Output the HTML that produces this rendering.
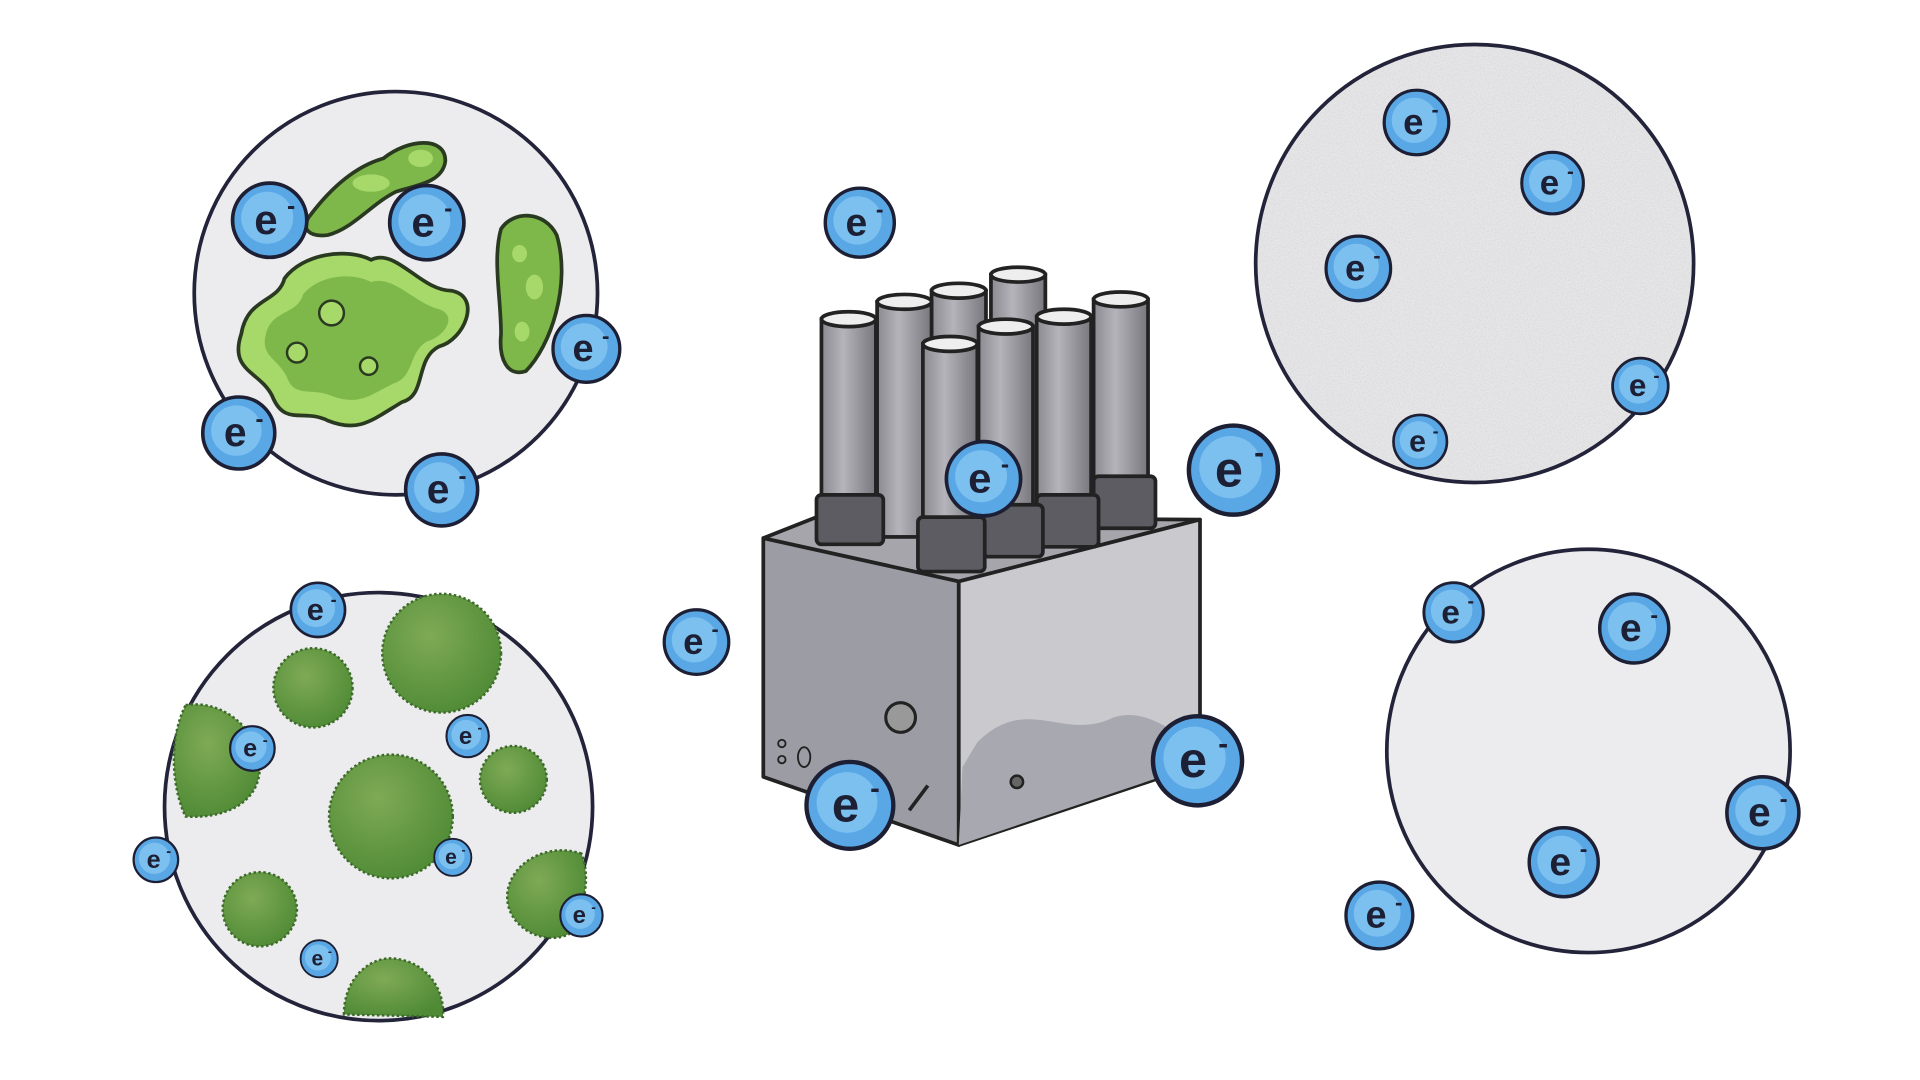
<!DOCTYPE html>
<html><head><meta charset="utf-8"><style>
html,body{margin:0;padding:0;background:#fff;width:1920px;height:1080px;overflow:hidden}
svg{display:block}
</style></head><body>
<svg width="1920" height="1080" viewBox="0 0 1552 873" preserveAspectRatio="none" xmlns="http://www.w3.org/2000/svg">
<defs>
<filter id="sp"><feTurbulence type="fractalNoise" baseFrequency="0.9" numOctaves="2" seed="3"/><feColorMatrix values="0 0 0 0 0.55  0 0 0 0 0.55  0 0 0 0 0.55  0 0 0 1.4 -0.55"/><feComposite in2="SourceGraphic" operator="in"/></filter>
<radialGradient id="bush" cx="0.4" cy="0.35" r="0.7"><stop offset="0" stop-color="#7faa55"/><stop offset="1" stop-color="#4f8a35"/></radialGradient>
<linearGradient id="tube" x1="0" x2="1"><stop offset="0" stop-color="#8a8a90"/><stop offset="0.4" stop-color="#b4b4ba"/><stop offset="1" stop-color="#77777d"/></linearGradient>
</defs>

<!-- circles -->
<circle cx="320" cy="237" r="163" fill="#ececee" stroke="#23233a" stroke-width="3"/>
<circle cx="306" cy="652" r="173" fill="#ececee" stroke="#23233a" stroke-width="3"/>
<circle cx="1192" cy="213" r="177" fill="#e6e6e8" stroke="#23233a" stroke-width="3"/>
<circle cx="1192" cy="213" r="175" fill="#fff" filter="url(#sp)" opacity="0.6"/>
<circle cx="1284" cy="607" r="163" fill="#ececee" stroke="#23233a" stroke-width="3"/>

<!-- top-left organisms -->
<path d="M195 270 C200 240 225 245 230 225 C245 205 280 200 300 210 C320 200 340 235 365 235 C390 240 375 275 355 280 C335 290 345 320 325 325 C300 340 290 350 265 340 C245 330 230 345 220 320 C210 300 185 300 195 270Z" fill="#a7d86a" stroke="#2a3a20" stroke-width="3"/>
<path d="M215 270 C220 250 240 255 245 238 C258 222 285 220 300 228 C318 222 335 245 355 250 C370 255 360 272 345 276 C330 285 335 305 318 310 C298 320 290 328 268 320 C252 313 238 322 232 305 C225 290 210 288 215 270Z" fill="#7fb84a"/>
<circle cx="268" cy="253" r="10" fill="#a7d86a" stroke="#2a3a20" stroke-width="2"/>
<circle cx="240" cy="285" r="8" fill="#a7d86a" stroke="#2a3a20" stroke-width="2"/>
<circle cx="298" cy="296" r="7" fill="#a7d86a" stroke="#2a3a20" stroke-width="2"/>
<path d="M250 175 C265 155 285 135 310 128 C330 112 360 110 360 130 C358 148 335 150 320 155 C300 165 285 185 265 190 C250 192 243 185 250 175Z" fill="#7fb84a" stroke="#2a3a20" stroke-width="3"/>
<ellipse cx="300" cy="148" rx="15" ry="7" fill="#a7d86a"/>
<ellipse cx="340" cy="128" rx="10" ry="7" fill="#a7d86a"/>
<path d="M405 185 C415 170 440 170 450 190 C462 230 445 280 425 300 C410 305 403 290 405 270 C405 240 398 210 405 185Z" fill="#7fb84a" stroke="#2a3a20" stroke-width="3"/>
<ellipse cx="432" cy="232" rx="7" ry="10" fill="#a7d86a"/><ellipse cx="420" cy="205" rx="6" ry="7" fill="#a7d86a"/><ellipse cx="422" cy="268" rx="6" ry="8" fill="#a7d86a"/>

<!-- bottom-left bushes -->
<g fill="url(#bush)" stroke="#3c6a28" stroke-width="2" stroke-dasharray="2 2">
<circle cx="357" cy="528" r="48"/>
<circle cx="253" cy="556" r="32"/>
<path d="M150 570 C180 565 210 590 210 620 C210 650 180 662 150 660 C140 640 135 600 150 570Z"/>
<circle cx="316" cy="660" r="50"/>
<circle cx="415" cy="630" r="27"/>
<circle cx="210" cy="735" r="30"/>
<path d="M470 690 C440 680 410 700 410 725 C410 750 440 765 460 755 C472 735 478 710 470 690Z"/>
<path d="M278 820 C278 790 300 772 320 775 C345 778 360 800 358 822Z"/>
</g>

<!-- machine -->
<polygon points="617,435 660,418 970,420 775,470" fill="#a5a5ab" stroke="#222" stroke-width="3" stroke-linejoin="round"/>
<polygon points="617,435 775,470 775,683 617,628" fill="#9c9ca4" stroke="#222" stroke-width="3" stroke-linejoin="round"/>
<polygon points="775,470 970,420 970,618 775,683" fill="#cacace" stroke="#222" stroke-width="3" stroke-linejoin="round"/>
<path d="M790 600 C830 560 860 600 900 580 C930 570 955 600 968 600 L968 618 L775 683 L778 620Z" fill="#a8a8b0"/>
<circle cx="728" cy="580" r="12" fill="#999" stroke="#222" stroke-width="2.5"/>
<circle cx="822" cy="632" r="5" fill="#666" stroke="#222" stroke-width="2"/>
<circle cx="632" cy="601" r="3" fill="none" stroke="#222" stroke-width="1.5"/><circle cx="632" cy="614" r="3" fill="none" stroke="#222" stroke-width="1.5"/>
<ellipse cx="650" cy="612" rx="5" ry="8" fill="none" stroke="#222" stroke-width="1.5"/>
<line x1="735" y1="655" x2="750" y2="635" stroke="#222" stroke-width="3"/>
<g stroke="#222" stroke-width="3">
<!-- back row -->
<rect x="753" y="235" width="44" height="190" fill="url(#tube)"/><ellipse cx="775" cy="235" rx="22" ry="6" fill="#eee"/>
<rect x="801" y="222" width="44" height="200" fill="url(#tube)"/><ellipse cx="823" cy="222" rx="22" ry="6" fill="#eee"/>
<rect x="709" y="244" width="44" height="190" fill="url(#tube)"/><ellipse cx="731" cy="244" rx="22" ry="6" fill="#eee"/>
<rect x="884" y="242" width="44" height="170" fill="url(#tube)"/><ellipse cx="906" cy="242" rx="22" ry="6" fill="#eee"/>
<rect x="664" y="258" width="44" height="150" fill="url(#tube)"/><ellipse cx="686" cy="258" rx="22" ry="6" fill="#eee"/>
<rect x="838" y="256" width="44" height="160" fill="url(#tube)"/><ellipse cx="860" cy="256" rx="22" ry="6" fill="#eee"/>
<rect x="791" y="264" width="44" height="160" fill="url(#tube)"/><ellipse cx="813" cy="264" rx="22" ry="6" fill="#eee"/>
<rect x="746" y="278" width="44" height="160" fill="url(#tube)"/><ellipse cx="768" cy="278" rx="22" ry="6" fill="#eee"/>
<!-- collars -->
<rect x="660" y="400" width="54" height="40" rx="4" fill="#5c5c62"/>
<rect x="884" y="385" width="50" height="42" rx="4" fill="#5c5c62"/>
<rect x="838" y="400" width="50" height="42" rx="4" fill="#5c5c62"/>
<rect x="795" y="408" width="48" height="42" rx="4" fill="#5c5c62"/>
<rect x="742" y="418" width="54" height="44" rx="4" fill="#5c5c62"/>
</g>

<!-- electrons -->
<g id="el" font-family="Liberation Sans, sans-serif" font-weight="bold">
<g transform="translate(218,178) scale(1.0)"><circle r="30" fill="#5aa7e6" stroke="#1d2035" stroke-width="3"/><circle r="21" cx="-2" cy="-2" fill="#7cc0f0"/><text x="-3" y="11" font-size="34" text-anchor="middle" fill="#1d2035">e</text><text x="14" y="-5" font-size="20" fill="#1d2035">-</text></g>
</g>
<g font-family="Liberation Sans, sans-serif" font-weight="bold" fill="#1d2035">
<!-- template repeated -->
<g transform="translate(345,180)"><circle r="30" fill="#5aa7e6" stroke="#1d2035" stroke-width="3"/><circle r="21" cx="-2" cy="-2" fill="#7cc0f0"/><text x="-3" y="11" font-size="34" text-anchor="middle">e</text><text x="14" y="-5" font-size="20">-</text></g>
<g transform="translate(474,282) scale(0.9)"><circle r="30" fill="#5aa7e6" stroke="#1d2035" stroke-width="3"/><circle r="21" cx="-2" cy="-2" fill="#7cc0f0"/><text x="-3" y="11" font-size="34" text-anchor="middle">e</text><text x="14" y="-5" font-size="20">-</text></g>
<g transform="translate(193,350) scale(0.97)"><circle r="30" fill="#5aa7e6" stroke="#1d2035" stroke-width="3"/><circle r="21" cx="-2" cy="-2" fill="#7cc0f0"/><text x="-3" y="11" font-size="34" text-anchor="middle">e</text><text x="14" y="-5" font-size="20">-</text></g>
<g transform="translate(357,396) scale(0.97)"><circle r="30" fill="#5aa7e6" stroke="#1d2035" stroke-width="3"/><circle r="21" cx="-2" cy="-2" fill="#7cc0f0"/><text x="-3" y="11" font-size="34" text-anchor="middle">e</text><text x="14" y="-5" font-size="20">-</text></g>
<g transform="translate(695,180) scale(0.93)"><circle r="30" fill="#5aa7e6" stroke="#1d2035" stroke-width="3"/><circle r="21" cx="-2" cy="-2" fill="#7cc0f0"/><text x="-3" y="11" font-size="34" text-anchor="middle">e</text><text x="14" y="-5" font-size="20">-</text></g>
<g transform="translate(1145,99) scale(0.87)"><circle r="30" fill="#5aa7e6" stroke="#1d2035" stroke-width="3"/><circle r="21" cx="-2" cy="-2" fill="#7cc0f0"/><text x="-3" y="11" font-size="34" text-anchor="middle">e</text><text x="14" y="-5" font-size="20">-</text></g>
<g transform="translate(1255,148) scale(0.83)"><circle r="30" fill="#5aa7e6" stroke="#1d2035" stroke-width="3"/><circle r="21" cx="-2" cy="-2" fill="#7cc0f0"/><text x="-3" y="11" font-size="34" text-anchor="middle">e</text><text x="14" y="-5" font-size="20">-</text></g>
<g transform="translate(1098,217) scale(0.87)"><circle r="30" fill="#5aa7e6" stroke="#1d2035" stroke-width="3"/><circle r="21" cx="-2" cy="-2" fill="#7cc0f0"/><text x="-3" y="11" font-size="34" text-anchor="middle">e</text><text x="14" y="-5" font-size="20">-</text></g>
<g transform="translate(1326,312) scale(0.75)"><circle r="30" fill="#5aa7e6" stroke="#1d2035" stroke-width="3"/><circle r="21" cx="-2" cy="-2" fill="#7cc0f0"/><text x="-3" y="11" font-size="34" text-anchor="middle">e</text><text x="14" y="-5" font-size="20">-</text></g>
<g transform="translate(1148,357) scale(0.72)"><circle r="30" fill="#5aa7e6" stroke="#1d2035" stroke-width="3"/><circle r="21" cx="-2" cy="-2" fill="#7cc0f0"/><text x="-3" y="11" font-size="34" text-anchor="middle">e</text><text x="14" y="-5" font-size="20">-</text></g>
<g transform="translate(997,380) scale(1.2)"><circle r="30" fill="#5aa7e6" stroke="#1d2035" stroke-width="3"/><circle r="21" cx="-2" cy="-2" fill="#7cc0f0"/><text x="-3" y="11" font-size="34" text-anchor="middle">e</text><text x="14" y="-5" font-size="20">-</text></g>
<g transform="translate(795,387)"><circle r="30" fill="#5aa7e6" stroke="#1d2035" stroke-width="3"/><circle r="21" cx="-2" cy="-2" fill="#7cc0f0"/><text x="-3" y="11" font-size="34" text-anchor="middle">e</text><text x="14" y="-5" font-size="20">-</text></g>
<g transform="translate(563,519) scale(0.87)"><circle r="30" fill="#5aa7e6" stroke="#1d2035" stroke-width="3"/><circle r="21" cx="-2" cy="-2" fill="#7cc0f0"/><text x="-3" y="11" font-size="34" text-anchor="middle">e</text><text x="14" y="-5" font-size="20">-</text></g>
<g transform="translate(968,615) scale(1.2)"><circle r="30" fill="#5aa7e6" stroke="#1d2035" stroke-width="3"/><circle r="21" cx="-2" cy="-2" fill="#7cc0f0"/><text x="-3" y="11" font-size="34" text-anchor="middle">e</text><text x="14" y="-5" font-size="20">-</text></g>
<g transform="translate(687,651) scale(1.17)"><circle r="30" fill="#5aa7e6" stroke="#1d2035" stroke-width="3"/><circle r="21" cx="-2" cy="-2" fill="#7cc0f0"/><text x="-3" y="11" font-size="34" text-anchor="middle">e</text><text x="14" y="-5" font-size="20">-</text></g>
<g transform="translate(257,493) scale(0.73)"><circle r="30" fill="#5aa7e6" stroke="#1d2035" stroke-width="3"/><circle r="21" cx="-2" cy="-2" fill="#7cc0f0"/><text x="-3" y="11" font-size="34" text-anchor="middle">e</text><text x="14" y="-5" font-size="20">-</text></g>
<g transform="translate(204,605) scale(0.6)"><circle r="30" fill="#5aa7e6" stroke="#1d2035" stroke-width="3"/><circle r="21" cx="-2" cy="-2" fill="#7cc0f0"/><text x="-3" y="11" font-size="34" text-anchor="middle">e</text><text x="14" y="-5" font-size="20">-</text></g>
<g transform="translate(378,595) scale(0.57)"><circle r="30" fill="#5aa7e6" stroke="#1d2035" stroke-width="3"/><circle r="21" cx="-2" cy="-2" fill="#7cc0f0"/><text x="-3" y="11" font-size="34" text-anchor="middle">e</text><text x="14" y="-5" font-size="20">-</text></g>
<g transform="translate(126,695) scale(0.6)"><circle r="30" fill="#5aa7e6" stroke="#1d2035" stroke-width="3"/><circle r="21" cx="-2" cy="-2" fill="#7cc0f0"/><text x="-3" y="11" font-size="34" text-anchor="middle">e</text><text x="14" y="-5" font-size="20">-</text></g>
<g transform="translate(366,693) scale(0.5)"><circle r="30" fill="#5aa7e6" stroke="#1d2035" stroke-width="3"/><circle r="21" cx="-2" cy="-2" fill="#7cc0f0"/><text x="-3" y="11" font-size="34" text-anchor="middle">e</text><text x="14" y="-5" font-size="20">-</text></g>
<g transform="translate(470,740) scale(0.57)"><circle r="30" fill="#5aa7e6" stroke="#1d2035" stroke-width="3"/><circle r="21" cx="-2" cy="-2" fill="#7cc0f0"/><text x="-3" y="11" font-size="34" text-anchor="middle">e</text><text x="14" y="-5" font-size="20">-</text></g>
<g transform="translate(258,775) scale(0.5)"><circle r="30" fill="#5aa7e6" stroke="#1d2035" stroke-width="3"/><circle r="21" cx="-2" cy="-2" fill="#7cc0f0"/><text x="-3" y="11" font-size="34" text-anchor="middle">e</text><text x="14" y="-5" font-size="20">-</text></g>
<g transform="translate(1175,495) scale(0.8)"><circle r="30" fill="#5aa7e6" stroke="#1d2035" stroke-width="3"/><circle r="21" cx="-2" cy="-2" fill="#7cc0f0"/><text x="-3" y="11" font-size="34" text-anchor="middle">e</text><text x="14" y="-5" font-size="20">-</text></g>
<g transform="translate(1321,508) scale(0.93)"><circle r="30" fill="#5aa7e6" stroke="#1d2035" stroke-width="3"/><circle r="21" cx="-2" cy="-2" fill="#7cc0f0"/><text x="-3" y="11" font-size="34" text-anchor="middle">e</text><text x="14" y="-5" font-size="20">-</text></g>
<g transform="translate(1425,657) scale(0.97)"><circle r="30" fill="#5aa7e6" stroke="#1d2035" stroke-width="3"/><circle r="21" cx="-2" cy="-2" fill="#7cc0f0"/><text x="-3" y="11" font-size="34" text-anchor="middle">e</text><text x="14" y="-5" font-size="20">-</text></g>
<g transform="translate(1264,697) scale(0.93)"><circle r="30" fill="#5aa7e6" stroke="#1d2035" stroke-width="3"/><circle r="21" cx="-2" cy="-2" fill="#7cc0f0"/><text x="-3" y="11" font-size="34" text-anchor="middle">e</text><text x="14" y="-5" font-size="20">-</text></g>
<g transform="translate(1115,740) scale(0.9)"><circle r="30" fill="#5aa7e6" stroke="#1d2035" stroke-width="3"/><circle r="21" cx="-2" cy="-2" fill="#7cc0f0"/><text x="-3" y="11" font-size="34" text-anchor="middle">e</text><text x="14" y="-5" font-size="20">-</text></g>
</g>
</svg>
</body></html>
